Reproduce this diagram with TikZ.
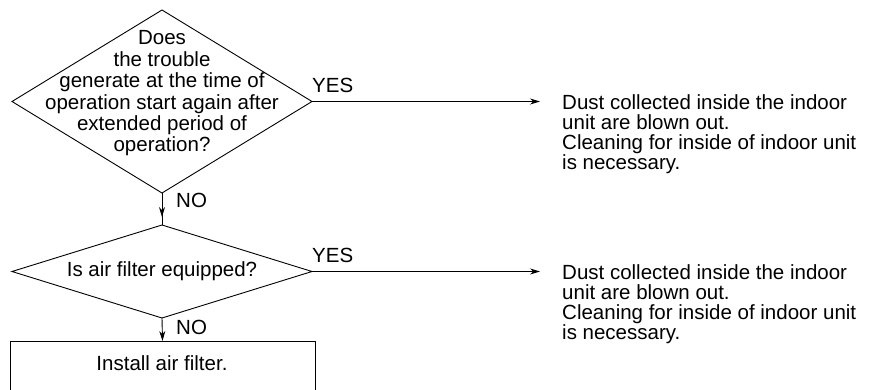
\documentclass[tikz,border=0pt]{standalone}
\usepackage{fontspec}
\setmainfont{Liberation Sans}
\usetikzlibrary{positioning, arrows.meta, shapes.geometric, calc}

\begin{document}
\begin{tikzpicture}[
		x=1pt, y=-1pt,
		>={Stealth[length=10pt, width=6pt]},
		decision/.style={diamond, draw, line width=0.9pt, inner sep=0pt, outer sep=0pt, minimum width=300pt},
		actbox/.style={draw, line width=0.9pt, inner sep=0pt, outer sep=0pt, minimum width=305pt, minimum height=80pt},
		qtext/.style={font=\fontsize{20.5}{21.4}\selectfont, align=center, inner sep=0pt},
		result/.style={font=\fontsize{20.5}{20}\selectfont, align=left, inner sep=0pt, anchor=north west},
		answer/.style={font=\fontsize{20.5}{20.5}\selectfont, inner sep=0pt},
		flow/.style={line width=0.9pt}
		]
		\useasboundingbox (0,0) rectangle (874,390);
		\clip (0,0) rectangle (874,390);
		
		% ==========================================
		% 1. FIRST QUESTION
		% ==========================================
		\node[decision, minimum height=183pt] (q1) at (162,101.5) {};
		\node[qtext] (q1txt) at (162,93.5) {Does\\the trouble\\generate at the time of\\operation start again after\\extended period of\\operation?};
		
		\coordinate (tip1) at (540,101.5);
		\draw[flow, ->] (q1.east) -- (tip1);
		\node[answer, anchor=base west] (yes1) at ($(q1.east)+(0,-9)$) {YES};
		
		\node[result] (res1) at (562,94) {Dust collected inside the indoor\\unit are blown out.\\Cleaning for inside of indoor unit\\is necessary.};
		
		% ==========================================
		% 2. SECOND QUESTION
		% ==========================================
		\node[decision, minimum height=93pt] (q2) at (162,271.5) {};
		\node[qtext] (q2txt) at (q2) {Is air filter equipped?};
		
		\draw[flow] (q1.south) -- (q2.north);
		\draw[flow, ->] (q1.south) -- ($(q2.north)+(0,-8)$);
		\node[answer, anchor=west] (no1) at (176,200) {NO};
		
		\coordinate (tip2) at (540,271.5);
		\draw[flow, ->] (q2.east) -- (tip2);
		\node[answer, anchor=base west] (yes2) at ($(q2.east)+(0,-9)$) {YES};
		
		\node[result] (res2) at (562,264) {Dust collected inside the indoor\\unit are blown out.\\Cleaning for inside of indoor unit\\is necessary.};
		
		% ==========================================
		% 3. ACTION
		% ==========================================
		\node[actbox, anchor=north] (fix) at (162.5,341) {};
		\node[qtext] (fixtxt) at (162,363) {Install air filter.};
		
		\draw[flow, ->] (q2.south) -- (fix.north);
		\node[answer, anchor=west] (no2) at (176,327) {NO};
		
	\end{tikzpicture}
\end{document}
